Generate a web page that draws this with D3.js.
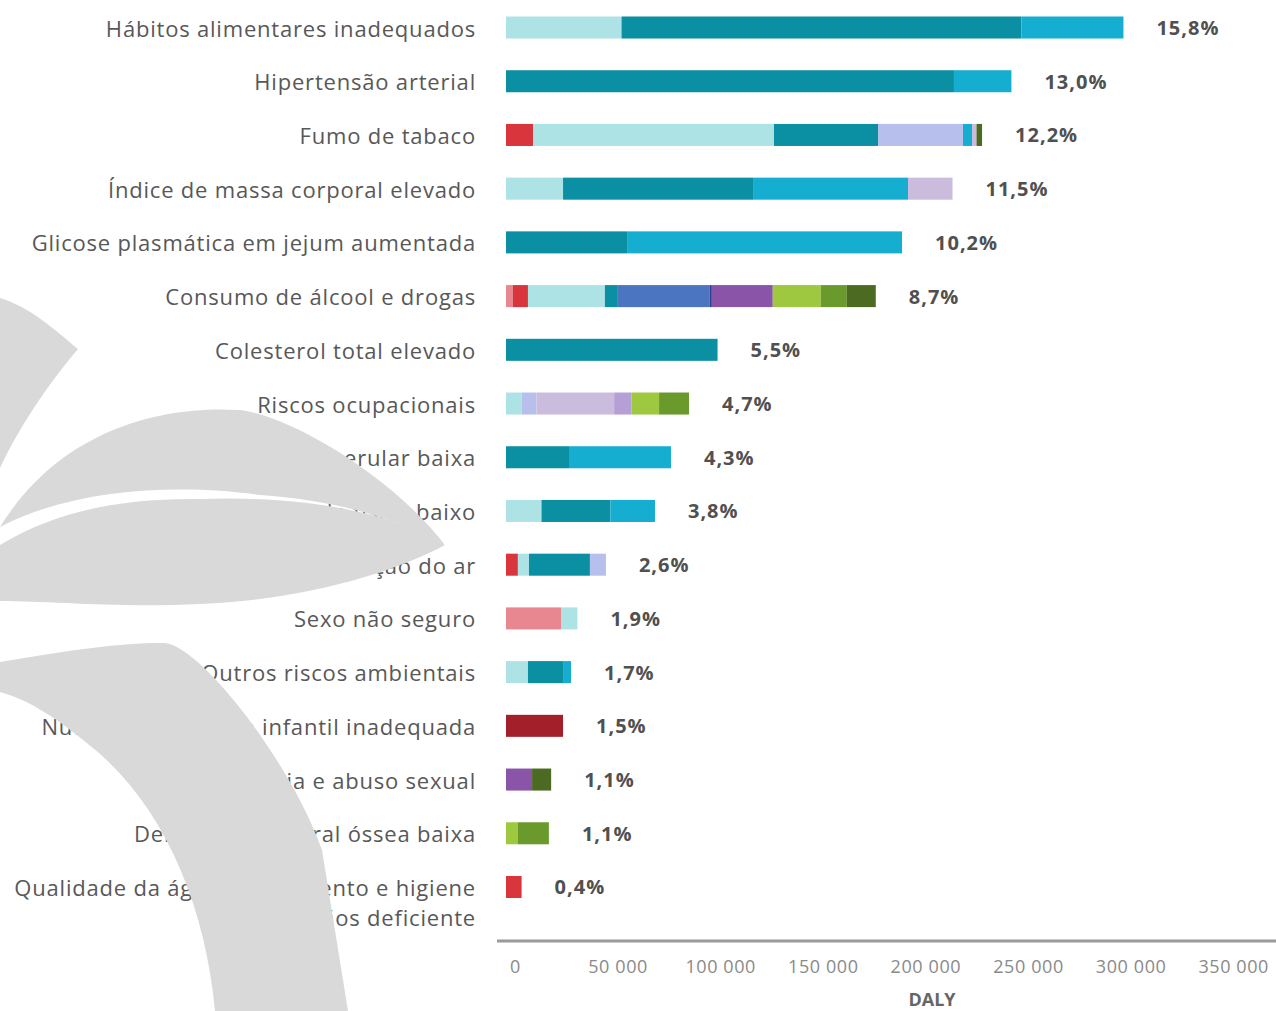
<!DOCTYPE html>
<html>
<head>
<meta charset="utf-8">
<script src="https://cdn.jsdelivr.net/npm/d3@7"></script>
<style>
  html, body { margin: 0; padding: 0; background: #ffffff; }
  svg { display: block; }
  text { font-family: "Open Sans", "Noto Sans", sans-serif; }
</style>
</head>
<body>
<svg id="chart" width="1276" height="1011"></svg>
<script>
// ---- DATA ----
const categories = [
  "Hábitos alimentares inadequados",
  "Hipertensão arterial",
  "Fumo de tabaco",
  "Índice de massa corporal elevado",
  "Glicose plasmática em jejum aumentada",
  "Consumo de álcool e drogas",
  "Colesterol total elevado",
  "Riscos ocupacionais",
  "Taxa de filtração glomerular baixa",
  "Nível de atividade física baixo",
  "Poluição do ar",
  "Sexo não seguro",
  "Outros riscos ambientais",
  "Nutrição materna e infantil inadequada",
  "Violência e abuso sexual",
  "Densidade mineral óssea baixa",
  "Qualidade da água, saneamento e higiene|das mãos deficiente"
];
const percentLabels = ["15,8%","13,0%","12,2%","11,5%","10,2%","8,7%","5,5%","4,7%","4,3%","3,8%","2,6%","1,9%","1,7%","1,5%","1,1%","1,1%","0,4%"];

const seriesNames = [
  "HIV/aids e ISTs", "Doenças transmissíveis", "Doenças maternas e neonatais",
  "Neoplasias", "Doenças cardiovasculares", "Doenças respiratórias crônicas",
  "Doenças digestivas", "Doenças neurológicas", "Transtornos mentais e uso de substâncias",
  "Diabetes e doenças renais", "Distúrbios musculoesqueléticos", "Outras doenças não transmissíveis",
  "Lesões de trânsito", "Lesões não intencionais", "Violência e lesões autoprovocadas"
];
const seriesColors = [
  "#e8878f", "#d8353d", "#a3202b",
  "#aee3e5", "#0b8fa2", "#b7c0ec",
  "#4b74c1", "#2a3d8a", "#8a54a8",
  "#15aed0", "#cbbcdd", "#b59fd5",
  "#9dc83f", "#6b9a2c", "#4c6a22"
];
// DALY per series, one value per category (same order as categories)
const hivIst        = [0,0,0,0,0,3400,0,0,0,0,0,26800,0,0,0,0,0];
const transmissiveis= [0,0,13200,0,0,7300,0,0,0,0,5800,0,0,0,0,0,7600];
const maternoNeo    = [0,0,0,0,0,0,0,0,0,0,0,0,0,27800,0,0,0];
const neoplasias    = [56300,0,117400,27800,0,37500,0,7600,0,17300,5400,8000,10700,0,0,0,0];
const cardiovasc    = [194900,218300,50700,92600,59000,6300,103100,0,30700,33600,29700,0,17100,0,0,0,0];
const respCronicas  = [0,0,41400,0,0,0,0,7300,0,0,7800,0,0,0,0,0,0];
const digestivas    = [0,0,0,0,0,44800,0,0,0,0,0,0,0,0,0,0,0];
const neurologicas  = [0,0,0,0,0,1000,0,0,0,0,0,0,0,0,0,0,0];
const mentais       = [0,0,0,0,0,29700,0,0,0,0,0,0,0,0,12700,0,0];
const diabetesRenal = [49700,28000,4400,75500,134000,0,0,0,49700,21700,0,0,3900,0,0,0,0];
const musculoesq    = [0,0,2200,21700,0,0,0,37800,0,0,0,0,0,0,0,0,0];
const outrasDNT     = [0,0,0,0,0,0,0,8500,0,0,0,0,0,0,0,0,0];
const transito      = [0,0,0,0,0,23400,0,13400,0,0,0,0,0,0,0,5800,0];
const naoIntenc     = [0,0,0,0,0,12700,0,14600,0,0,0,0,0,0,0,15100,0];
const violencia     = [0,0,2700,0,0,14100,0,0,0,0,0,0,0,0,9300,0,0];
const seriesValues = [hivIst, transmissiveis, maternoNeo, neoplasias, cardiovasc, respCronicas,
  digestivas, neurologicas, mentais, diabetesRenal, musculoesq, outrasDNT, transito, naoIntenc, violencia];

const xTicks = [0, 50000, 100000, 150000, 200000, 250000, 300000, 350000];
const axisTitle = "DALY";

// ---- CHART ----
const svg = d3.select("#chart");

const x = d3.scaleLinear().domain([0, 350000]).range([506, 506 + 350000 * 0.002052]);
const y = d3.scaleBand().domain(categories).range([0.65, 913.85]).paddingInner(0.59).paddingOuter(0.295);

const table = categories.map((c, i) => {
  const row = { category: c };
  seriesNames.forEach((s, j) => row[s] = seriesValues[j][i]);
  return row;
});
const stacked = d3.stack().keys(seriesNames)(table);

const gBars = svg.append("g");
stacked.forEach((layer, j) => {
  gBars.selectAll(null)
    .data(layer.filter(d => d[1] - d[0] > 0))
    .join("rect")
    .attr("x", d => x(d[0]))
    .attr("y", d => y(d.data.category))
    .attr("width", d => x(d[1]) - x(d[0]))
    .attr("height", y.bandwidth())
    .attr("fill", seriesColors[j]);
});

// percent labels
const totals = table.map(r => d3.sum(seriesNames, s => r[s]));
svg.append("g").selectAll("text")
  .data(categories)
  .join("text")
  .attr("x", (c, i) => x(totals[i]) + 33)
  .attr("y", c => y(c) + y.bandwidth() / 2)
  .attr("dominant-baseline", "central")
  .attr("font-size", 20)
  .attr("letter-spacing", 1)
  .attr("font-weight", 700)
  .attr("fill", "#505050")
  .text((c, i) => percentLabels[i]);

// category labels
const gLab = svg.append("g");
categories.forEach(c => {
  const lines = c.split("|");
  const t = gLab.append("text")
    .attr("x", 476)
    .attr("y", y(c) + y.bandwidth() / 2)
    .attr("text-anchor", "end")
    .attr("dominant-baseline", "central")
    .attr("font-size", 22)
    .attr("letter-spacing", 0.8)
    .attr("fill", "#585858");
  lines.forEach((ln, k) => {
    t.append("tspan").attr("x", 476).attr("dy", k === 0 ? 0 : 30).text(ln);
  });
});

// axis
const fmt = d => d3.format(",")(d).replace(/,/g, " ");
const gAxis = svg.append("g").attr("transform", "translate(0,941)")
  .call(d3.axisBottom(x).tickValues(xTicks).tickFormat(fmt).tickSize(0));
gAxis.select(".domain").remove();
gAxis.selectAll("text")
  .attr("y", 26).attr("dy", "0.35em").attr("dx", 9)
  .attr("font-family", "'Open Sans', sans-serif")
  .attr("font-size", 18)
  .attr("letter-spacing", 0.6)
  .attr("fill", "#8a8a8a");
svg.append("line")
  .attr("x1", 497).attr("x2", 1276).attr("y1", 941).attr("y2", 941)
  .attr("stroke", "#9a9a9a").attr("stroke-width", 3);
svg.append("text")
  .attr("x", 932).attr("y", 1006)
  .attr("text-anchor", "middle")
  .attr("font-size", 18).attr("font-weight", 700).attr("fill", "#666")
  .text(axisTitle);

// watermark shapes (decorative, over the labels)
const wm = svg.append("g").attr("fill", "#d9d9d9");
wm.append("path").attr("d", "M0,298 C30,307 55,330 78,349 C50,382 20,425 0,468 Z");
wm.append("path").attr("d", "M0,527 C60,430 160,405 240,410 C290,416 390,474 445,545 C390,515 330,500 260,495 C190,485 80,485 0,527 Z");
wm.append("path").attr("d", "M0,545 C50,515 110,498 200,499 C280,496 380,505 445,545 C395,572 305,600 200,604 C120,608 50,601 0,601 Z");
wm.append("path").attr("d", "M0,662 C60,652 120,642 165,643 C200,646 290,760 322,850 L348,1011 L215,1011 C205,900 160,800 88,744 C52,714 25,699 0,692 Z");
</script>
</body>
</html>
